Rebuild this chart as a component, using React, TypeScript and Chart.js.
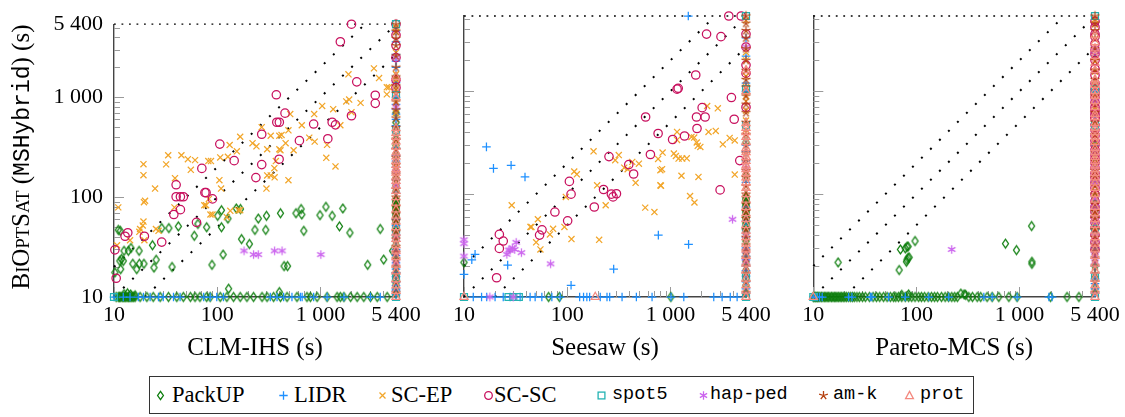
import React, { useEffect, useRef } from 'react';
import { Chart, registerables } from 'chart.js';

Chart.register(...registerables);

// ---------------- data ----------------
const AXIS_MIN = 10;
const AXIS_MAX = 5400;
const TICK_LABEL_VALUES = [10, 100, 1000, 5400];
const TICK_LABELS = ['10', '100', '1 000', '5 400'];
const MAJOR_TICKS = [10, 100, 1000];
const MINOR_TICKS = [20, 30, 40, 50, 60, 70, 80, 90, 200, 300, 400, 500, 600, 700, 800, 900, 2000, 3000, 4000, 5000];
const DIAGONAL_FACTORS = [0.5, 1, 2];
const X_TITLES = ['CLM-IHS (s)', 'Seesaw (s)', 'Pareto-MCS (s)'];
const SERIES = ['PackUP', 'LIDR', 'SC-EP', 'SC-SC', 'spot5', 'hap-ped', 'am-k', 'prot'];

type Pt = [number, number];

// ---- panel 1: CLM-IHS ----
const C1_PACKUP: Pt[] = [[1130, 80], [1650, 77], [1300, 65], [990, 66], [580, 69], [650, 76], [660, 67], [410, 69], [300, 65], [250, 61], [295, 47], [232, 47], [153, 77], [168, 76], [127, 61], [110, 74], [101, 65], [110, 50], [79, 50], [60, 41], [65, 54], [690, 46], [1530, 51], [1930, 44], [3800, 48], [172, 38], [205, 34], [114, 26.6], [89, 21], [445, 20.4], [480, 20.4], [2870, 21], [4100, 23.7], [5000, 29], [42, 51], [34, 49], [29, 49], [23.6, 33], [25.6, 23.6], [24.4, 19.7], [36.5, 20], [19.5, 21.5], [17.6, 21.5], [15.2, 21.5], [17.5, 29], [13.8, 29], [12.5, 29], [11.4, 23], [11.8, 24], [12.3, 23], [10.2, 17.6], [11, 47], [11.5, 46], [11.6, 19], [14.6, 31], [16.6, 19], [129, 12.1], [400, 11.2], [12.5, 10.7], [13.5, 10.9], [14.5, 10.6], [16, 10.4]];
const C1_SCEP: Pt[] = [[3300, 1950], [3700, 1560], [4400, 1260], [4600, 1260], [4400, 1070], [1870, 1700], [1780, 910], [1900, 950], [2450, 880], [2000, 710], [1040, 820], [1330, 760], [1560, 525], [870, 680], [660, 525], [510, 680], [780, 394], [880, 360], [1160, 334], [1140, 248], [1400, 203], [490, 467], [420, 420], [330, 412], [400, 412], [460, 347], [400, 302], [410, 295], [550, 295], [270, 502], [220, 347], [240, 323], [167, 403], [132, 333], [155, 288], [305, 302], [127, 254], [107, 250], [82, 230], [87, 230], [61, 235], [52, 240], [45, 263], [33.5, 263], [32, 213], [19.3, 214], [19.3, 166], [25, 122], [39, 155], [55.5, 188], [370, 230], [358, 195], [330, 165], [305, 165], [360, 158], [490, 148], [300, 122], [105, 148], [109, 122], [75, 83], [78, 83], [83, 96], [86, 67], [90, 67], [160, 74], [167, 74], [134, 73], [124, 63], [38.5, 79], [20, 92], [19.5, 89], [19.3, 57], [19, 52], [25.5, 48], [27, 46], [17.9, 48], [17.6, 45], [19.7, 37], [14.3, 37], [11, 79], [10.7, 33]];
const C1_SCSC: Pt[] = [[2000, 5400], [1560, 3600], [2250, 1430], [374, 1060], [454, 694], [378, 563], [400, 563], [3400, 1050], [3400, 870], [2000, 654], [1300, 563], [1400, 530], [860, 540], [1180, 385], [626, 368], [270, 427], [106, 340], [146, 232], [398, 240], [270, 212], [71, 194], [237, 157], [40, 133], [40, 101], [44, 101], [47, 101], [76, 111], [78, 111], [90, 96], [44, 75], [38, 67], [63, 56], [13.6, 44], [12.8, 40.6], [19.7, 40.6], [29, 35.5], [10.2, 29.7], [10.5, 15.4]];
const C1_HAP: Pt[] = [[182, 29], [225, 26.6], [250, 26.6], [360, 29], [425, 29], [1010, 26.6]];
const C1_PACKUP_BOTTOM = [10.5, 11, 11.3, 11.6, 12, 12.3, 12.7, 13, 13.4, 13.8, 14.2, 14.6, 15, 15.5, 16, 17.9, 20.8, 24, 28, 33.7, 40.6, 47, 55, 61, 68, 79, 85.5, 107, 124, 144, 167, 194, 225, 272, 304, 352, 410, 475, 593, 741, 800, 929, 1160, 1450, 1560, 1690, 1960, 2270, 2630, 3055, 3550, 4430];
const C1_LIDR_BOTTOM = [10, 12.3, 14.3, 17.2, 19.3, 22.4, 27, 30, 37.7, 43.7, 74, 85.5, 99, 115, 327, 380, 440, 530, 640, 665, 860, 1160, 1690, 3055, 3800];
const C1_SPOT_BOTTOM = [10];
const C1_PACKUP_RIGHT = [10.8, 12, 13.5, 15, 17, 20, 24, 28, 33, 40, 44, 46, 48, 50, 52, 54, 56, 58, 60, 62, 64, 66, 68, 70, 72, 74, 76, 78, 80, 82, 84, 86, 88, 90, 92, 94, 97, 115, 130, 155, 180, 220, 260, 330, 380, 450, 560, 700, 1600];
const C1_LIDR_RIGHT = [10.5, 11.5, 12, 13, 14, 16, 17.5, 19, 22, 26, 30, 36, 42, 52, 60, 110, 150, 200, 230, 260, 310, 380, 520, 600, 680, 760, 850, 1000, 1400, 2000, 2300, 2700, 3600, 4600];
const C1_SCEP_RIGHT = [200, 350, 700, 900, 1200, 1500, 1700, 2800, 4500, 5000];
const C1_SCSC_RIGHT = [1250, 1500, 2500, 3300, 4200, 5400];
const C1_HAP_RIGHT = [22, 28, 40, 130, 180, 800, 2500];

// ---- panel 2: Seesaw ----
const C2_PACKUP: Pt[] = [[10, 21.7]];
const C2_LIDR: Pt[] = [[1490, 5400], [16.5, 288], [28.6, 191], [19.3, 178], [39, 147], [764, 40], [1500, 32.5], [282, 18.7], [109, 13], [12.8, 26], [11.9, 23], [26.5, 20.4], [10, 16.6]];
const C2_SCEP: Pt[] = [[2270, 720], [2880, 684], [1160, 403], [1600, 360], [1700, 355], [2340, 403], [2750, 412], [3220, 305], [3750, 352], [4200, 333], [1800, 318], [1840, 295], [1950, 288], [1160, 337], [1080, 248], [1130, 235], [1200, 222], [1300, 222], [1440, 223], [840, 254], [760, 220], [830, 175], [800, 171], [427, 206], [495, 198], [460, 129], [357, 181], [385, 175], [316, 240], [292, 214], [180, 261], [1280, 151], [1870, 147], [1550, 96], [1710, 83], [570, 74], [700, 67], [800, 122], [810, 121], [4200, 155], [195, 122], [236, 78], [117, 166], [124, 156], [97, 94], [94, 48], [110, 36.6], [204, 36], [73, 46], [68, 40.6], [52, 57], [44, 48], [45, 48], [50, 34], [55, 29], [29, 78]];
const C2_SCSC: Pt[] = [[3680, 5400], [4850, 5400], [2240, 3600], [3090, 3400], [1760, 1440], [1160, 1050], [1190, 1070], [3900, 870], [575, 563], [2030, 694], [1790, 563], [2170, 563], [1810, 435], [4150, 535], [760, 389], [1050, 340], [1370, 368], [640, 243], [254, 232], [395, 194], [440, 157], [4700, 212], [3030, 110], [105, 133], [109, 100], [225, 111], [268, 100], [300, 101], [278, 94], [183, 75], [76, 67], [101, 55], [57, 45], [54, 40], [22, 40.6], [24, 35], [22, 29.7], [20.7, 15.4]];
const C2_HAP: Pt[] = [[4000, 57], [69, 21], [10, 36], [10, 33], [10, 25], [32, 34], [29.4, 30], [27.2, 28.6], [26, 26], [28, 28.6], [31, 29], [36, 27]];
const C2_PACKUP_BOTTOM = [66, 84, 1010];
const C2_LIDR_BOTTOM = [12.3, 14.8, 16.6, 20, 24, 28, 35, 43.7, 48.9, 56.8, 71, 85.5, 132, 144, 155, 165, 209, 243, 258, 340, 468, 664, 1014, 1348, 2630, 3170, 3800, 4430];
const C2_SPOT_BOTTOM = [10, 27, 30, 34];
const C2_HAP_BOTTOM = [17.8, 30];
const C2_PROT_BOTTOM = [10, 187];
const C2_PACKUP_RIGHT = [11, 13, 15, 18, 22, 27, 35, 42, 44, 46, 48, 50, 52, 54, 56, 58, 60, 62, 64, 66, 68, 70, 72, 74, 76, 78, 80, 82, 84, 86, 88, 90, 93, 96, 150, 320];
const C2_LIDR_RIGHT = [11, 12, 14, 16, 18, 20, 23, 25, 30, 38, 55, 75, 130, 210, 260, 300, 1000, 1200, 2200, 3300];
const C2_SCEP_RIGHT = [420, 520, 650, 800, 900, 1100, 1400, 2000, 2400, 4900];
const C2_SCSC_RIGHT = [700, 1500, 1800, 2700, 3600];
const C2_HAP_RIGHT = [22, 28, 40, 180, 2700];

// ---- panel 3: Pareto-MCS ----
const C3_PACKUP: Pt[] = [[1310, 49], [731, 33], [935, 28.6], [1320, 22], [1320, 21], [97, 35], [70, 29], [78, 29.7], [81, 30.8], [83, 31], [81, 23], [83, 24], [85, 24.3], [80, 22], [68, 18.3], [17.4, 21.7], [270, 10.8], [290, 10.6], [300, 10.5], [72, 10.5], [84, 10.6]];
const C3_HAP: Pt[] = [[220, 29]];
const C3_PACKUP_BOTTOM = [10, 10.2, 10.5, 10.8, 11, 11.3, 11.6, 12, 12.4, 12.8, 13.2, 13.6, 14, 14.5, 15, 15.5, 16, 16.5, 17, 17.6, 18.2, 18.8, 19.5, 20.2, 21, 22, 23, 24, 25, 26.5, 28, 30, 32, 35, 38, 41, 44, 48, 52, 56, 60, 63, 67, 72, 78, 84, 90, 97, 105, 112, 120, 130, 140, 150, 160, 175, 190, 205, 220, 235, 250, 322, 350, 389, 420, 485, 543, 630, 788, 948, 2000, 2890, 3770];
const C3_LIDR_BOTTOM = [10, 10.5, 11, 11.5, 12.2, 22, 23.7, 35.7, 37, 53.8, 78, 132, 206, 451, 543, 948, 1930, 2070];
const C3_PACKUP_RIGHT = [12, 15, 20, 28, 45, 50, 55, 60, 65, 70, 75, 80, 85, 90, 95, 130, 200, 300, 450];
const C3_LIDR_RIGHT = [11, 12, 13.5, 15, 17, 20, 24, 30, 60, 150, 300, 600, 1000, 2200];
const C3_SCEP_RIGHT = [33, 38, 46, 52, 58, 66, 80, 92, 105, 120, 135, 150, 170, 200, 230, 260, 300, 350, 420, 500, 600, 700, 800, 900, 1100, 1260, 1560, 1950, 2600, 3200, 4500, 5000];
const C3_SCSC_RIGHT = [29, 34, 40, 47, 53, 60, 67, 75, 85, 100, 115, 130, 145, 160, 180, 200, 220, 240, 270, 300, 330, 370, 420, 470, 540, 560, 600, 650, 700, 780, 870, 960, 1050, 1200, 1430, 1650, 2000, 2300, 2500, 2900, 3400, 3600, 4200, 4800];
const C3_HAP_RIGHT = [22, 25, 28, 34, 40, 55, 75, 90, 130, 180, 260, 800, 2500, 2600];
const C3_PROT_RIGHT = [10, 11.5, 13, 15, 18, 21, 25, 29, 33, 38, 44, 50, 57, 65, 75, 88, 100, 115, 130, 145, 160, 175, 190, 210, 230, 255, 280, 320, 360, 400, 440, 490, 560, 600, 700, 800, 900, 1000, 1150, 1300, 1600, 1900, 2200, 2600, 3000, 3500];

// shared timeout columns (same instances time out for every competitor)
const SPOT_RIGHT = [10, 15.5, 46, 470, 1050, 5400];
const AMK_RIGHT = [11, 14, 17, 20, 24, 28, 32, 38, 45, 58, 68, 80, 100, 120, 145, 170, 210, 250, 300, 380, 500, 620, 750, 900, 1100, 1300, 1600, 2000, 2600, 3300, 3900, 4600, 5400];
const PROT_RIGHT = [10, 11.5, 13, 15, 18, 21, 25, 29, 33, 38, 44, 50, 57, 65, 75, 88, 100, 115, 130, 145, 160, 175, 190, 210, 230, 255, 280, 320, 360, 400, 440, 490, 1000, 1600];

// ---------------- styling ----------------
const SERIF = "'Liberation Serif', 'Times New Roman', serif";
const MONO = "'Liberation Mono', 'DejaVu Sans Mono', monospace";
const COLORS = ['#0b7d0b', '#1e90ff', '#f2a62a', '#c8105e', '#23b3b3', '#cc66ee', '#b5400f', '#f48a80'];
const KINDS = ['diamond', 'cross', 'crossRot', 'circle', 'rect', 'asterisk', 'star', 'triangle'];
const RADII = [4, 4.3, 4.3, 4.2, 4.9, 4, 4.5, 4.7];
const CANVAS_H = 365;
const PANELS = [
  { left: 0, w: 440, yw: 114, right: 44 },
  { left: 420, w: 360, yw: 44, right: 34 },
  { left: 770, w: 355, yw: 43.3, right: 30 },
];

const EMPTY: Pt[] = [];
const SCATTER: Pt[][][] = [
  [C1_PACKUP, EMPTY, C1_SCEP, C1_SCSC, EMPTY, C1_HAP, EMPTY, EMPTY],
  [C2_PACKUP, C2_LIDR, C2_SCEP, C2_SCSC, EMPTY, C2_HAP, EMPTY, EMPTY],
  [C3_PACKUP, EMPTY, EMPTY, EMPTY, EMPTY, C3_HAP, EMPTY, EMPTY],
];
const BOTTOM: number[][][] = [
  [C1_PACKUP_BOTTOM, C1_LIDR_BOTTOM, [], [], C1_SPOT_BOTTOM, [], [], []],
  [C2_PACKUP_BOTTOM, C2_LIDR_BOTTOM, [], [], C2_SPOT_BOTTOM, C2_HAP_BOTTOM, [], C2_PROT_BOTTOM],
  [C3_PACKUP_BOTTOM, C3_LIDR_BOTTOM, [], [], [10], [], [], [10]],
];
const RIGHT: number[][][] = [
  [C1_PACKUP_RIGHT, C1_LIDR_RIGHT, C1_SCEP_RIGHT, C1_SCSC_RIGHT, SPOT_RIGHT, C1_HAP_RIGHT, AMK_RIGHT, PROT_RIGHT],
  [C2_PACKUP_RIGHT, C2_LIDR_RIGHT, C2_SCEP_RIGHT, C2_SCSC_RIGHT, SPOT_RIGHT, C2_HAP_RIGHT, AMK_RIGHT, PROT_RIGHT],
  [C3_PACKUP_RIGHT, C3_LIDR_RIGHT, C3_SCEP_RIGHT, C3_SCSC_RIGHT, SPOT_RIGHT, C3_HAP_RIGHT, AMK_RIGHT, C3_PROT_RIGHT],
];

function makeMarker(kind: string, color: string): HTMLCanvasElement {
  const size = 13;
  const c = document.createElement('canvas');
  c.width = size;
  c.height = size;
  const ctx = c.getContext('2d')!;
  const m = size / 2;
  ctx.strokeStyle = color;
  ctx.lineWidth = 1.25;
  ctx.beginPath();
  if (kind === 'diamond') {
    ctx.moveTo(m, m - 4.3);
    ctx.lineTo(m + 3, m);
    ctx.lineTo(m, m + 4.3);
    ctx.lineTo(m - 3, m);
    ctx.closePath();
  } else if (kind === 'asterisk') {
    for (let k = 0; k < 3; k++) {
      const a = Math.PI / 2 + (k * Math.PI) / 3;
      ctx.moveTo(m + 4.3 * Math.cos(a), m + 4.3 * Math.sin(a));
      ctx.lineTo(m - 4.3 * Math.cos(a), m - 4.3 * Math.sin(a));
    }
  } else if (kind === 'star') {
    for (let k = 0; k < 5; k++) {
      const a = -Math.PI / 2 + (k * 2 * Math.PI) / 5;
      ctx.moveTo(m, m);
      ctx.lineTo(m + 4.7 * Math.cos(a), m + 4.7 * Math.sin(a));
    }
  }
  ctx.stroke();
  return c;
}

const ticksPlugin = {
  id: 'insideTicks',
  beforeDatasetsDraw(chart: any) {
    const { ctx, chartArea: a, scales } = chart;
    const x = scales.x;
    const y = scales.y;
    ctx.save();
    ctx.strokeStyle = '#9a9a9a';
    ctx.lineWidth = 1;
    const draw = (vals: number[], len: number) => {
      for (const v of vals) {
        const px = Math.round(x.getPixelForValue(v)) + 0.5;
        ctx.beginPath();
        ctx.moveTo(px, a.bottom);
        ctx.lineTo(px, a.bottom - len);
        ctx.stroke();
        const py = Math.round(y.getPixelForValue(v)) + 0.5;
        ctx.beginPath();
        ctx.moveTo(a.left, py);
        ctx.lineTo(a.left + len, py);
        ctx.stroke();
      }
    };
    draw(MAJOR_TICKS, 10);
    draw(MINOR_TICKS, 6);
    ctx.restore();
  },
};

const yTitlePlugin = {
  id: 'yTitle',
  afterDraw(chart: any) {
    const ctx = chart.ctx;
    const big = `25px ${SERIF}`;
    const small = `18.5px ${SERIF}`;
    const mono = `23px ${MONO}`;
    const parts = [
      ['B', big], ['I', small], ['O', big], ['PT', small], ['S', big], ['AT', small],
      [' (', big], ['MSHybrid', mono], [') (s)', big],
    ];
    ctx.save();
    let total = 0;
    const widths = parts.map(([t, f]) => {
      ctx.font = f;
      const w = ctx.measureText(t).width;
      total += w;
      return w;
    });
    ctx.translate(29, 157);
    ctx.rotate(-Math.PI / 2);
    ctx.fillStyle = '#000';
    ctx.textBaseline = 'alphabetic';
    let xx = -total / 2;
    parts.forEach(([t, f], i) => {
      ctx.font = f;
      ctx.fillText(t, xx, 0);
      xx += widths[i];
    });
    ctx.restore();
  },
};

function buildConfig(p: number): any {
  const g = PANELS[p];
  const datasets: any[] = [];
  SERIES.forEach((name, i) => {
    const pts = [
      ...SCATTER[p][i].map(([x, y]) => ({ x, y })),
      ...BOTTOM[p][i].map((x) => ({ x, y: AXIS_MIN })),
      ...RIGHT[p][i].map((y) => ({ x: AXIS_MAX, y })),
    ];
    const kind = KINDS[i];
    const custom = kind === 'diamond' || kind === 'asterisk' || kind === 'star';
    datasets.push({
      label: name,
      data: pts,
      pointStyle: custom ? makeMarker(kind, COLORS[i]) : kind,
      pointRadius: RADII[i],
      pointBorderWidth: 1.25,
      borderColor: COLORS[i],
      pointBorderColor: COLORS[i],
      backgroundColor: 'rgba(0,0,0,0)',
      pointBackgroundColor: 'rgba(0,0,0,0)',
      showLine: false,
      clip: false,
      order: 10 - i,
    });
  });
  DIAGONAL_FACTORS.forEach((f) => {
    const start = f >= 1 ? { x: AXIS_MIN, y: AXIS_MIN * f } : { x: AXIS_MIN / f, y: AXIS_MIN };
    const end = f >= 1 ? { x: AXIS_MAX / f, y: AXIS_MAX } : { x: AXIS_MAX, y: AXIS_MAX * f };
    datasets.push({
      label: 'diag' + f,
      data: [start, end],
      showLine: true,
      pointRadius: 0,
      borderColor: '#000',
      borderWidth: 2,
      borderDash: [2, 10.7],
      borderCapStyle: 'butt',
      clip: false,
      order: 20,
    });
  });
  datasets.push({
    label: 'top',
    data: [{ x: AXIS_MIN, y: AXIS_MAX }, { x: AXIS_MAX, y: AXIS_MAX }],
    showLine: true,
    pointRadius: 0,
    borderColor: '#000',
    borderWidth: 1.3,
    borderDash: [1.8, 5.7],
    clip: false,
    order: 20,
  });

  const tickFont = { family: SERIF, size: 22 };
  const labelFor = (v: any) => {
    const k = TICK_LABEL_VALUES.indexOf(Number(v));
    return k >= 0 ? TICK_LABELS[k] : '';
  };
  const setTicks = (s: any) => {
    s.ticks = TICK_LABEL_VALUES.map((v) => ({ value: v }));
  };

  return {
    type: 'scatter',
    data: { datasets },
    options: {
      animation: false,
      responsive: false,
      devicePixelRatio: 1,
      events: [],
      layout: { padding: { left: 0, right: g.right, top: 16, bottom: 0 } },
      plugins: { legend: { display: false }, tooltip: { enabled: false } },
      scales: {
        x: {
          type: 'logarithmic',
          position: 'bottom',
          min: AXIS_MIN,
          max: AXIS_MAX,
          afterBuildTicks: setTicks,
          afterFit: (s: any) => { s.height = CANVAS_H - 297; },
          grid: { display: false, drawTicks: false },
          border: { display: true, color: '#444', width: 1.4 },
          ticks: { callback: labelFor, font: tickFont, color: '#000', padding: 5, autoSkip: false, maxRotation: 0, minRotation: 0 },
          title: { display: true, text: X_TITLES[p], font: { family: SERIF, size: 25 }, color: '#000', padding: { top: 2, bottom: 2 } },
        },
        y: {
          type: 'logarithmic',
          position: 'left',
          min: AXIS_MIN,
          max: AXIS_MAX,
          afterBuildTicks: setTicks,
          afterFit: (s: any) => { s.width = g.yw; },
          grid: { display: false, drawTicks: false },
          border: { display: true, color: '#444', width: 1.4 },
          ticks: { display: p === 0, callback: labelFor, font: tickFont, color: '#000', padding: 11, autoSkip: false },
        },
      },
    },
    plugins: p === 0 ? [ticksPlugin, yTitlePlugin] : [ticksPlugin],
  };
}

function Panel({ index }: { index: number }) {
  const ref = useRef<HTMLCanvasElement>(null);
  useEffect(() => {
    if (!ref.current) return;
    const chart = new Chart(ref.current, buildConfig(index));
    return () => chart.destroy();
  }, [index]);
  const g = PANELS[index];
  return (
    <canvas
      ref={ref}
      width={g.w}
      height={CANVAS_H}
      style={{ position: 'absolute', left: g.left, top: 0, width: g.w, height: CANVAS_H }}
    />
  );
}

function LegendMarker({ i }: { i: number }) {
  const c = COLORS[i];
  const k = KINDS[i];
  const sw = 1.3;
  let shape: any = null;
  if (k === 'diamond') shape = <polygon points="6.5,2.3 9.4,6.5 6.5,10.7 3.6,6.5" fill="none" stroke={c} strokeWidth={sw} />;
  else if (k === 'cross') shape = <path d="M6.5 2.3 V10.7 M2.3 6.5 H10.7" fill="none" stroke={c} strokeWidth={sw} />;
  else if (k === 'crossRot') shape = <path d="M3.5 3.5 L9.5 9.5 M9.5 3.5 L3.5 9.5" fill="none" stroke={c} strokeWidth={sw} />;
  else if (k === 'circle') shape = <circle cx="6.5" cy="6.5" r="3.8" fill="none" stroke={c} strokeWidth={sw} />;
  else if (k === 'rect') shape = <rect x="3.1" y="3.1" width="6.8" height="6.8" fill="none" stroke={c} strokeWidth={sw} />;
  else if (k === 'asterisk') shape = <path d="M6.5 2.3 V10.7 M2.86 4.4 L10.14 8.6 M2.86 8.6 L10.14 4.4" fill="none" stroke={c} strokeWidth={sw} />;
  else if (k === 'star') shape = <path d="M6.5 6.5 V1.9 M6.5 6.5 L10.87 5.08 M6.5 6.5 L9.2 10.22 M6.5 6.5 L3.8 10.22 M6.5 6.5 L2.13 5.08" fill="none" stroke={c} strokeWidth={sw} />;
  else if (k === 'triangle') shape = <polygon points="6.5,2.4 10.4,9.6 2.6,9.6" fill="none" stroke={c} strokeWidth={sw} />;
  return (
    <svg width="13" height="13" style={{ display: 'block' }}>
      {shape}
    </svg>
  );
}

const LEGEND_BOX = { left: 149, top: 376, width: 825, height: 38 };
const LEGEND_MARKER_X = [160, 283, 382, 488, 601, 703, 823, 909];
const LEGEND_TEXT_X = [172, 294, 391, 494, 612, 710, 833, 920];
const LEGEND_MONO = [false, false, false, false, true, true, true, true];

function Legend() {
  return (
    <div
      style={{
        position: 'absolute',
        left: LEGEND_BOX.left,
        top: LEGEND_BOX.top,
        width: LEGEND_BOX.width,
        height: LEGEND_BOX.height,
        border: '1px solid #333',
        boxSizing: 'border-box',
        background: '#fff',
      }}
    >
      {SERIES.map((name, i) => (
        <React.Fragment key={name}>
          <div style={{ position: 'absolute', left: LEGEND_MARKER_X[i] - LEGEND_BOX.left - 1 - 6.5, top: 0, height: 36, display: 'flex', alignItems: 'center' }}>
            <LegendMarker i={i} />
          </div>
          <div
            style={{
              position: 'absolute',
              left: LEGEND_TEXT_X[i] - LEGEND_BOX.left - 1,
              top: 0,
              height: 36,
              display: 'flex',
              alignItems: 'center',
              fontFamily: LEGEND_MONO[i] ? MONO : SERIF,
              fontSize: LEGEND_MONO[i] ? 18.5 : 22.5,
              lineHeight: '22px',
              color: '#000',
              whiteSpace: 'nowrap',
            }}
          >
            {name}
          </div>
        </React.Fragment>
      ))}
    </div>
  );
}

export default function App() {
  return (
    <div style={{ position: 'absolute', left: 0, top: 0, width: 1125, height: 417, background: '#fff', overflow: 'hidden' }}>
      <Panel index={0} />
      <Panel index={1} />
      <Panel index={2} />
      <Legend />
    </div>
  );
}
